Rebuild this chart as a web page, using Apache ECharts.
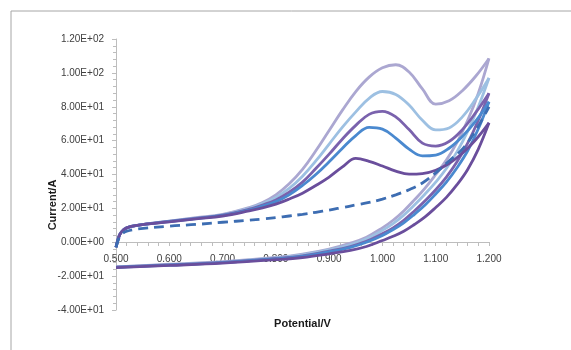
<!DOCTYPE html>
<html>
<head>
<meta charset="utf-8">
<script src="https://cdn.jsdelivr.net/npm/echarts@6/dist/echarts.min.js"></script>
<style>
  html, body { margin: 0; padding: 0; background: #fff; }
  #chart { width: 571px; height: 350px; }
</style>
</head>
<body>
<div id="chart"></div>
<script>
// forward scan (0.5 -> 1.2 V)
const fwdPotential = [0.500, 0.505, 0.510, 0.520, 0.540, 0.600, 0.650, 0.700, 0.750, 0.775, 0.800, 0.825,
  0.850, 0.875, 0.900, 0.925, 0.950, 0.975, 1.000, 1.025, 1.050, 1.075, 1.100, 1.125, 1.150, 1.175, 1.200];
const fwd1 = [-3, 3, 6, 8.5, 10, 12.5, 14.5, 16.5, 20.5, 23.5, 28, 34.5, 43, 54, 66, 78, 89, 97.5, 103, 104.8, 100.5, 90.5, 81.5, 83.5, 89.5, 98, 108.5];
const fwd2 = [-3, 3, 6, 8.5, 10, 12.5, 14.3, 16.2, 20, 22.8, 26.5, 31.8, 39, 48, 58, 68, 77, 85, 89, 87.3, 81, 72, 66.3, 67.5, 74, 84.5, 97];
const fwd3 = [-3, 3, 6, 8.5, 10, 12.3, 14.1, 16, 19.5, 22, 25, 29.5, 35.5, 43.5, 52, 61, 69, 75.5, 77.3, 74, 66.5, 58.5, 56.8, 59.5, 66.5, 76.5, 88];
const fwd4 = [-3, 3, 6, 8.5, 10, 12.2, 14, 15.8, 19, 21.3, 24, 28, 33.5, 40, 47.5, 55.5, 63, 67.8, 66.8, 61.5, 55, 51, 51.5, 55.5, 62.5, 71.5, 83];
const fwd5 = [-3, 3, 6, 8.5, 10, 12, 13.8, 15.5, 18.5, 20.3, 22.5, 25.5, 29, 33.5, 38.5, 44.5, 49.5, 47.8, 45, 42, 40.2, 40.5, 42.5, 46.5, 52.5, 60.5, 70.5];
const fwdBlank = [-3, 2, 4.5, 6.5, 7.8, 9.5, 10.5, 11.8, 13, 13.7, 14.5, 15.5, 16.5, 17.7, 19, 20.5, 22, 23.5, 25.5, 28, 31, 35, 41, 48, 55, 66, 80];

// reverse scan (1.2 -> 0.5 V)
const revPotential = [1.200, 1.180, 1.160, 1.140, 1.120, 1.100, 1.080, 1.060, 1.040, 1.020, 1.000, 0.970,
  0.940, 0.900, 0.850, 0.800, 0.700, 0.600, 0.500];
const rev1 = [108.5, 88, 72, 59, 48.5, 40, 32, 25, 18.5, 13, 8.5, 3, -0.5, -4, -7, -9, -11.5, -13, -14.5];
const rev2 = [97, 80, 65.5, 53.5, 43.5, 35.5, 28.5, 22, 16, 11, 7, 2, -1.5, -4.5, -7.5, -9.3, -11.7, -13.2, -14.6];
const rev3 = [88, 72, 58.5, 47.5, 38.5, 31, 24.5, 18.5, 13, 8.5, 5, 0.5, -2.5, -5.2, -8, -9.6, -11.9, -13.4, -14.7];
const rev4 = [83, 67, 54, 44, 35.5, 28.5, 22, 16.5, 11.5, 7.5, 4, 0, -3, -5.7, -8.3, -9.8, -12, -13.5, -14.8];
const rev5 = [70.5, 55, 43, 34, 26.5, 20.5, 15, 10.5, 6.5, 3.5, 1, -2.5, -4.8, -6.8, -9, -10.3, -12.3, -13.7, -15];

const curveColors = ['#aba7d1', '#9dc0e2', '#7a62ad', '#4a89cf', '#6a4e9c'];
const blankColor = '#3d6db2';

const pairs = (xs, ys) => xs.map((x, i) => [x, ys[i]]);

const sciLabel = (v) => {
  if (v === 0) return '0.00E+00';
  const e = Math.floor(Math.log10(Math.abs(v)) + 1e-9);
  const m = v / Math.pow(10, e);
  return m.toFixed(2) + 'E' + (e < 0 ? '-' : '+') + String(Math.abs(e)).padStart(2, '0');
};

const lineSeries = (data, color, dashed) => ({
  type: 'line',
  data,
  smooth: 0.4,
  showSymbol: false,
  lineStyle: { color, width: 2.8, type: dashed ? [10, 6] : 'solid' },
  z: dashed ? 3 : 2,
});

const fwdSets = [fwd1, fwd2, fwd3, fwd4, fwd5];
const revSets = [rev1, rev2, rev3, rev4, rev5];
const series = [];
fwdSets.forEach((ys, i) => {
  series.push(lineSeries(pairs(fwdPotential, ys), curveColors[i], false));
  series.push(lineSeries(pairs(revPotential, revSets[i]), curveColors[i], false));
});
series.push(lineSeries(pairs(fwdPotential, fwdBlank), blankColor, true));

const chart = echarts.init(document.getElementById('chart'));
const labelFont = { fontFamily: 'Liberation Sans', fontSize: 10, color: '#404040' };

// grid runs from y=39 (120) to y=310 (-40), so the zero line sits 68px above the bottom
const zeroOffset = -68;

chart.setOption({
  animation: false,
  backgroundColor: '#fff',
  grid: { left: 116, right: 82, top: 39, bottom: 40, containLabel: false, outerBoundsMode: 'none' },
  xAxis: {
    type: 'value',
    position: 'bottom',
    offset: zeroOffset,
    min: 0.5,
    max: 1.2,
    interval: 0.1,
    axisLine: { onZero: false, lineStyle: { color: '#bdbdbd', width: 1 } },
    axisTick: { show: true, length: 4, lineStyle: { color: '#bdbdbd' } },
    minorTick: { show: true, splitNumber: 5, length: 4, lineStyle: { color: '#bdbdbd' } },
    splitLine: { show: false },
    axisLabel: { ...labelFont, margin: 12, formatter: (v) => v.toFixed(3) },
    name: 'Potential/V',
    nameLocation: 'middle',
    nameGap: 76,
    nameTextStyle: { fontFamily: 'Liberation Sans', fontSize: 11, fontWeight: 'bold', color: '#1a1a1a' },
  },
  yAxis: {
    type: 'value',
    min: -40,
    max: 120,
    interval: 20,
    axisLine: { show: true, lineStyle: { color: '#bdbdbd', width: 1 } },
    axisTick: { show: true, length: 4, lineStyle: { color: '#bdbdbd' } },
    minorTick: { show: true, splitNumber: 5, length: 3, lineStyle: { color: '#bdbdbd' } },
    splitLine: { show: false },
    axisLabel: { ...labelFont, margin: 12, formatter: sciLabel },
  },
  graphic: [
    {
      type: 'rect',
      shape: { x: 11, y: 11, width: 620, height: 400 },
      style: { fill: 'none', stroke: '#a6a6a6', lineWidth: 1 },
      silent: true,
    },
    {
      type: 'text',
      x: 53,
      y: 205,
      rotation: Math.PI / 2,
      style: {
        text: 'Current/A',
        font: 'bold 11px "Liberation Sans"',
        fill: '#1a1a1a',
        align: 'center',
        verticalAlign: 'middle',
      },
    },
  ],
  series,
});
</script>
</body>
</html>
